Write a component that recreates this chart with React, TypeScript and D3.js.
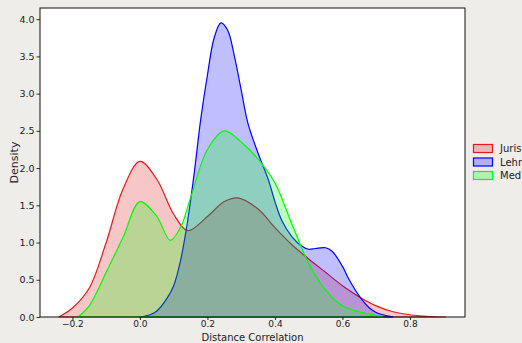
import { useRef, useEffect } from 'react';
import * as d3 from 'd3';

// KDE curves: [x, density]
const jurisX = [-0.24, -0.2, -0.15, -0.1, -0.05, 0.0, 0.05, 0.1, 0.142, 0.2, 0.25, 0.29, 0.35, 0.4, 0.45, 0.5, 0.55, 0.6, 0.65, 0.7, 0.75, 0.8, 0.85, 0.905];
const jurisY = [0, 0.12, 0.39, 1.0, 1.72, 2.09, 1.85, 1.38, 1.16, 1.35, 1.55, 1.6, 1.45, 1.2, 0.97, 0.78, 0.6, 0.42, 0.27, 0.15, 0.07, 0.03, 0.01, 0];

const lehrX = [0.0, 0.03, 0.05, 0.08, 0.1, 0.12, 0.14, 0.16, 0.18, 0.2, 0.22, 0.24, 0.26, 0.28, 0.3, 0.32, 0.35, 0.38, 0.4, 0.42, 0.45, 0.48, 0.5, 0.52, 0.55, 0.57, 0.6, 0.62, 0.65, 0.68, 0.7, 0.72, 0.75];
const lehrY = [0, 0.03, 0.08, 0.25, 0.42, 0.75, 1.25, 1.9, 2.65, 3.25, 3.75, 3.95, 3.85, 3.5, 3.05, 2.6, 2.2, 1.85, 1.55, 1.3, 1.08, 0.95, 0.91, 0.92, 0.93, 0.88, 0.68, 0.5, 0.28, 0.12, 0.06, 0.03, 0];

const medX = [-0.184, -0.15, -0.1, -0.05, 0.0, 0.05, 0.09, 0.12, 0.15, 0.2, 0.25, 0.3, 0.35, 0.4, 0.45, 0.5, 0.55, 0.6, 0.65, 0.7, 0.72];
const medY = [0, 0.15, 0.6, 1.07, 1.55, 1.35, 1.03, 1.2, 1.6, 2.25, 2.5, 2.35, 2.12, 1.8, 1.25, 0.72, 0.36, 0.15, 0.07, 0.02, 0];

const seriesNames = ['Juris', 'Lehr', 'Med'];
const seriesColors = ['#e01c1c', '#0000ff', '#00ff00'];
const xTicks = [-0.2, 0.0, 0.2, 0.4, 0.6, 0.8];
const yTicks = [0, 0.5, 1, 1.5, 2, 2.5, 3, 3.5, 4];

export default function App() {
  const svgRef = useRef<SVGSVGElement>(null);

  useEffect(() => {
    if (!svgRef.current) return;
    const svg = d3.select(svgRef.current);
    svg.selectAll('*').remove();

    const width = 522;
    const height = 343;
    const margin = { top: 8, right: 57, bottom: 26, left: 40 };
    const innerW = width - margin.left - margin.right;
    const innerH = height - margin.top - margin.bottom;

    svg.append('rect').attr('width', width).attr('height', height).attr('fill', '#eeede9');

    const x = d3.scaleLinear().domain([-0.296, 0.963]).range([0, innerW]);
    const y = d3.scaleLinear().domain([0, 4.15]).range([innerH, 0]);

    const g = svg.append('g').attr('transform', 'translate(' + margin.left + ',' + margin.top + ')');
    g.append('rect').attr('width', innerW).attr('height', innerH).attr('fill', '#ffffff');

    const series = [
      { xs: jurisX, ys: jurisY },
      { xs: lehrX, ys: lehrY },
      { xs: medX, ys: medY },
    ];

    const area = d3.area<[number, number]>()
      .x((d) => x(d[0]))
      .y0(y(0))
      .y1((d) => y(d[1]))
      .curve(d3.curveCatmullRom.alpha(0.5));

    series.forEach((s, i) => {
      const pts: [number, number][] = s.xs.map((v, j) => [v, s.ys[j]]);
      g.append('path')
        .attr('d', area(pts))
        .attr('fill', seriesColors[i])
        .attr('fill-opacity', 0.25)
        .attr('stroke', seriesColors[i])
        .attr('stroke-width', 1.2)
        .attr('stroke-linejoin', 'round');
    });

    // Axes
    const xAxis = g.append('g')
      .attr('transform', 'translate(0,' + innerH + ')')
      .call(d3.axisBottom(x).tickValues(xTicks).tickSize(3).tickPadding(1)
        .tickFormat((d) => d3.format('.1f')(d as number).replace('-', '\u2212')));
    const yAxis = g.append('g')
      .call(d3.axisLeft(y).tickValues(yTicks).tickSize(3.5).tickPadding(2)
        .tickFormat((d) => d3.format('.1f')(d as number)));
    [xAxis, yAxis].forEach((ax) => {
      ax.select('.domain').remove();
      ax.selectAll('.tick line').attr('stroke', '#000').attr('stroke-width', 0.8);
      ax.selectAll('.tick text')
        .attr('font-family', 'DejaVu Sans, sans-serif')
        .attr('font-size', '9.5px')
        .attr('fill', '#222');
    });
    xAxis.selectAll('.tick text').attr('font-size', '9px');

    // Spines
    g.append('rect')
      .attr('width', innerW).attr('height', innerH)
      .attr('fill', 'none').attr('stroke', '#111').attr('stroke-width', 1);

    g.append('text')
      .attr('x', innerW / 2)
      .attr('y', innerH + 23.5)
      .attr('text-anchor', 'middle')
      .attr('font-family', 'DejaVu Sans, sans-serif')
      .attr('font-size', '10px')
      .attr('fill', '#222')
      .text('Distance Correlation');

    g.append('text')
      .attr('transform', 'translate(' + -22 + ',' + innerH / 2 + ') rotate(-90)')
      .attr('text-anchor', 'middle')
      .attr('font-family', 'DejaVu Sans, sans-serif')
      .attr('font-size', '11px')
      .attr('fill', '#222')
      .text('Density');

    // Legend
    const legend = svg.append('g').attr('transform', 'translate(473,144)');
    seriesNames.forEach((name, i) => {
      const row = legend.append('g').attr('transform', 'translate(0,' + i * 13.5 + ')');
      row.append('rect')
        .attr('x', 0.5).attr('y', 0.5).attr('width', 19).attr('height', 8)
        .attr('fill', seriesColors[i]).attr('fill-opacity', 0.25)
        .attr('stroke', seriesColors[i]).attr('stroke-width', 1.2);
      row.append('text')
        .attr('x', 27).attr('y', 8)
        .attr('font-family', 'DejaVu Sans, sans-serif')
        .attr('font-size', '10px')
        .attr('fill', '#222')
        .text(name);
    });
  }, []);

  return <svg ref={svgRef} width={522} height={343} style={{ position: 'absolute', left: 0, top: 0 }} />;
}
